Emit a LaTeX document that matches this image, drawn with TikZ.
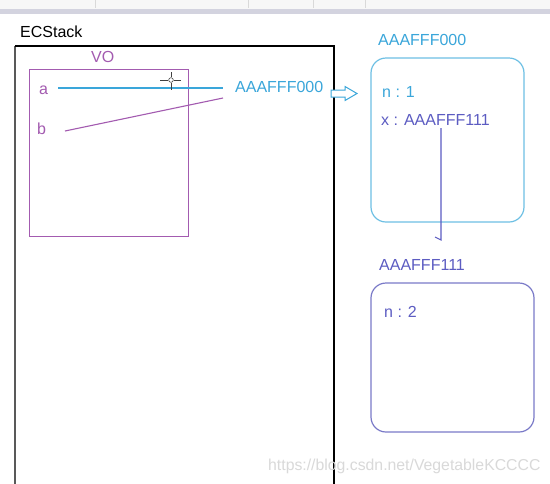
\documentclass[tikz,border=0pt]{standalone}
\usepackage{fontspec}
\setmainfont{Liberation Sans}
\begin{document}
\begin{tikzpicture}[x=1pt,y=-1pt,
  txt/.style={inner sep=0pt,anchor=base west,font=\fontsize{16}{18}\selectfont},
  memo/.style={rounded corners=15pt,line width=1.2pt}]
\definecolor{cyanblue}{HTML}{3AA6DA}
\definecolor{violetc}{HTML}{A35BB0}
\definecolor{indigoc}{HTML}{5C5CC2}
\definecolor{indigobox}{HTML}{7A7AC8}
\definecolor{boxblue}{HTML}{6EC0E4}
\useasboundingbox (0,0) rectangle (550,483);
\fill[white] (0,0) rectangle (550,483);
% toolbar remnant
\fill[gray!6] (0,0) rectangle (550,9);
\fill[blue!15!gray!30] (0,9) rectangle (550,14);
\foreach \xx in {95,248,313,365} \draw[gray!30] (\xx,0) -- (\xx,8);
% ECStack
\node[txt] (ecl) at (20,37) {ECStack};
\draw[gray!70!black,line width=1.4pt] (15,490) -- (15,46);
\draw[black,line width=1.1pt] (15,46) -- (334,46) -- (334,490);
% VO
\node[txt,text=violetc] (vol) at (91,62) {VO};
\draw[violetc,line width=1pt] (29,69) rectangle (188,236);
\node[txt,text=violetc] (va) at (39,94) {a};
\node[txt,text=violetc] (vb) at (37,134) {b};
\node[txt,text=cyanblue] (addr0) at (235,92) {AAAFFF000};
\coordinate (aend) at (58,88);
\coordinate (aend2) at (223,88);
\coordinate (bend) at (65,131);
\coordinate (bend2) at (223,98);
\draw[cyanblue,line width=1.1pt] (aend) -- (aend2);
\draw[violetc,line width=1.1pt] (bend) -- (bend2);
% cursor
\coordinate (cur) at (171,80);
\draw[gray!50!black,line width=1pt] (160,80) -- (168,80) (174,80) -- (181,80) (171,72) -- (171,77) (171,83) -- (171,90);
\draw[gray!60!black,line width=0.6pt] (cur) circle (2.3);
% hollow arrow
\draw[cyanblue,line width=1pt,fill=white] (331,90) -- (345,90) -- (345,86.5) -- (357,93.5) -- (345,100.5) -- (345,97) -- (331,97) -- cycle;
% object AAAFFF000
\node[txt,text=cyanblue] (t0) at (378,45) {AAAFFF000};
\draw[boxblue,memo] (371,58) rectangle (524,222);
\node[txt,text=cyanblue] (n1) at (382,97) {n : 1};
\node[txt,text=indigoc] (x1) at (381,125) {x : AAAFFF111};
\coordinate (p1) at (441,128);
\coordinate (p2) at (441,240);
\coordinate (p3) at (435,237);
\draw[indigoc,line width=1.1pt] (p1) -- (p2) -- (p3);
% object AAAFFF111
\node[txt,text=indigoc] (t1) at (379,270) {AAAFFF111};
\draw[indigobox,memo] (371,283) rectangle (534,432);
\node[txt,text=indigoc] (n2) at (384,317) {n : 2};
% watermark
\node[txt,text=gray!30,font=\fontsize{15.8}{18}\selectfont] (wm) at (268,470) {https://blog.csdn.net/VegetableKCCCC};
\end{tikzpicture}
\end{document}
